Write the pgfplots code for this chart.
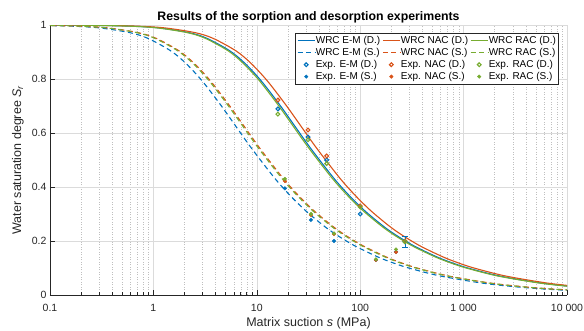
\documentclass[border=0pt]{standalone}
\usepackage{fontspec}
\setmainfont{Liberation Sans}
\usepackage{pgfplots}
\pgfplotsset{compat=1.18}
\definecolor{mblue}{rgb}{0,0.447,0.741}
\definecolor{mred}{rgb}{0.85,0.325,0.098}
\definecolor{mgreen}{rgb}{0.466,0.674,0.188}
\definecolor{axgray}{rgb}{0.15,0.15,0.15}
\begin{document}
\begin{tikzpicture}
\useasboundingbox (-50pt,-35pt) rectangle (534pt,295pt);
\begin{axis}[
  at={(0,0)}, anchor=south west,
  scale only axis, width=517pt, height=270pt,
  xmode=log, xmin=0.1, xmax=10000, ymin=0, ymax=1,
  axis lines*=left,
  axis line style={axgray, line width=0.8pt},
  xtick={0.1,1,10,100,1000,10000},
  xticklabels={0.1,1,10,100,1 000,10 000},
  minor xtick={0.2,0.3,0.4,0.5,0.6,0.7,0.8,0.9,2,3,4,5,6,7,8,9,20,30,40,50,60,70,80,90,200,300,400,500,600,700,800,900,2000,3000,4000,5000,6000,7000,8000,9000},
  ytick={0,0.2,0.4,0.6,0.8,1},
  yticklabels={0,0.2,0.4,0.6,0.8,1},
  minor ytick={},
  tick align=inside,
  major tick length=5pt, minor tick length=3pt,
  tick style={axgray, line width=0.6pt},
  xmajorgrids, xminorgrids, ymajorgrids,
  major grid style={line width=0.6pt, color=black!14},
  minor grid style={dash pattern=on 1pt off 1.5pt, line width=0.5pt, color=black!25},
  ticklabel style={font=\fontsize{10.5}{12}\selectfont, text=axgray},
  xticklabel style={yshift=-6pt},
  label style={font=\fontsize{12.5}{14}\selectfont, text=axgray},
  xlabel={Matrix suction \textit{s} (MPa)},
  ylabel={Water saturation degree \textit{S}\textsubscript{\textit{r}}},
  xlabel style={at={(axis description cs:0.5,-0.1185)}, anchor=base},
  ylabel style={at={(axis description cs:-0.0619,0.5)}, anchor=center},
  title={Results of the sorption and desorption experiments},
  title style={font=\bfseries\fontsize{12.3}{14}\selectfont, yshift=-7.5pt},
  legend columns=3,
  legend cell align=left,
  legend style={at={(axis description cs:0.983,0.97)}, anchor=north east,
    draw=axgray, fill=white, font=\fontsize{10}{11}\selectfont,
    inner xsep=1.5pt, inner ysep=1.5pt,
    nodes={inner xsep=0.5pt, inner ysep=1.6pt},
    /tikz/every even column/.append style={column sep=1.5pt}},
]
% drying (solid)
\addplot[mblue, line width=1.1pt, smooth] coordinates {(0.055,0.99988)(0.11,0.99967)(0.22,0.99906)(0.55,0.99630)(1.1,0.98968)(2.2,0.97185)(3.3,0.95055)(5.5,0.90401)(7.7,0.85756)(11,0.79370)(16.5,0.70639)(22,0.63925)(33,0.54446)(55,0.43463)(77,0.37140)(110,0.31296)(165,0.25674)(220,0.22279)(330,0.18222)(550,0.14130)(770,0.11946)(1100,0.09997)(2200,0.07070)(5500,0.04472)(11000,0.03162)};
\addlegendentry{WRC E-M (D.)}
\addplot[mred, line width=1.1pt, smooth] coordinates {(0.063,0.99988)(0.126,0.99967)(0.252,0.99906)(0.63,0.99630)(1.26,0.98968)(2.52,0.97185)(3.78,0.95055)(6.3,0.90401)(8.82,0.85756)(12.6,0.79370)(18.9,0.70639)(25.2,0.63925)(37.8,0.54446)(63,0.43463)(88.2,0.37140)(126,0.31296)(189,0.25674)(252,0.22279)(378,0.18222)(630,0.14130)(882,0.11946)(1260,0.09997)(2520,0.07070)(6300,0.04472)(12600,0.03162)};
\addlegendentry{WRC NAC (D.)}
\addplot[mgreen, line width=1.1pt, smooth] coordinates {(0.053,0.99988)(0.106,0.99967)(0.212,0.99906)(0.53,0.99630)(1.06,0.98968)(2.12,0.97185)(3.18,0.95055)(5.3,0.90401)(7.42,0.85756)(10.6,0.79370)(15.9,0.70639)(21.2,0.63925)(31.8,0.54446)(53,0.43463)(74.2,0.37140)(106,0.31296)(159,0.25674)(212,0.22279)(318,0.18222)(530,0.14130)(742,0.11946)(1060,0.09997)(2120,0.07070)(5300,0.04472)(10600,0.03162)};
\addlegendentry{WRC RAC (D.)}
% sorption (dashed)
\addplot[mblue, line width=1.1pt, smooth, dash pattern=on 5pt off 3.5pt] coordinates {(0.059,0.99906)(0.1475,0.99630)(0.295,0.98968)(0.59,0.97185)(0.885,0.95055)(1.475,0.90401)(2.065,0.85756)(2.95,0.79370)(4.425,0.70639)(5.9,0.63925)(8.85,0.54446)(14.75,0.43463)(20.65,0.37140)(29.5,0.31296)(44.25,0.25674)(59,0.22279)(88.5,0.18222)(147.5,0.14130)(206.5,0.11946)(295,0.09997)(590,0.07070)(1475,0.04472)(2950,0.03162)(5900,0.02236)(14750,0.01414)};
\addlegendentry{WRC E-M (S.)}
\addplot[mred, line width=1.1pt, smooth, dash pattern=on 5pt off 3.5pt] coordinates {(0.071,0.99906)(0.1775,0.99630)(0.355,0.98968)(0.71,0.97185)(1.065,0.95055)(1.775,0.90401)(2.485,0.85756)(3.55,0.79370)(5.325,0.70639)(7.1,0.63925)(10.65,0.54446)(17.75,0.43463)(24.85,0.37140)(35.5,0.31296)(53.25,0.25674)(71,0.22279)(106.5,0.18222)(177.5,0.14130)(248.5,0.11946)(355,0.09997)(710,0.07070)(1775,0.04472)(3550,0.03162)(7100,0.02236)(17750,0.01414)};
\addlegendentry{WRC NAC (S.)}
\addplot[mgreen, line width=1.1pt, smooth, dash pattern=on 5pt off 3.5pt] coordinates {(0.069,0.99906)(0.1725,0.99630)(0.345,0.98968)(0.69,0.97185)(1.035,0.95055)(1.725,0.90401)(2.415,0.85756)(3.45,0.79370)(5.175,0.70639)(6.9,0.63925)(10.35,0.54446)(17.25,0.43463)(24.15,0.37140)(34.5,0.31296)(51.75,0.25674)(69,0.22279)(103.5,0.18222)(172.5,0.14130)(241.5,0.11946)(345,0.09997)(690,0.07070)(1725,0.04472)(3450,0.03162)(6900,0.02236)(17250,0.01414)};
\addlegendentry{WRC RAC (S.)}
% experiments, drying
\addplot[only marks, mark=o, mblue, mark size=1.9pt, line width=1.1pt] coordinates {(16,0.689)(31.3,0.585)(47.4,0.50)(100,0.30)(271,0.198)};
\addlegendentry{Exp. E-M (D.)}
\addplot[only marks, mark=o, mred, mark size=1.9pt, line width=1.1pt] coordinates {(16,0.722)(31.3,0.611)(47.4,0.515)(100,0.33)(271,0.20)};
\addlegendentry{Exp. NAC (D.)}
\addplot[only marks, mark=o, mgreen, mark size=1.9pt, line width=1.1pt] coordinates {(16,0.67)(31.3,0.575)(47.4,0.487)(100,0.326)(271,0.197)};
\addlegendentry{Exp. RAC (D.)}
% experiments, sorption
\addplot[only marks, mark=*, mblue, mark size=1.8pt] coordinates {(18.7,0.395)(33.4,0.278)(55.8,0.20)(142,0.13)(222,0.16)};
\addlegendentry{Exp. E-M (S.)}
\addplot[only marks, mark=*, mred, mark size=1.8pt] coordinates {(18.7,0.422)(33.4,0.296)(55.8,0.226)(142,0.13)(222,0.159)};
\addlegendentry{Exp. NAC (S.)}
\addplot[only marks, mark=*, mgreen, mark size=1.8pt] coordinates {(18.7,0.43)(33.4,0.30)(55.8,0.228)(142,0.132)(222,0.169)};
\addlegendentry{Exp. RAC (S.)}
% error bar
\addplot[forget plot, draw=none, mark=none, error bars/.cd, y dir=both, y explicit,
  error bar style={draw=mblue, line width=0.8pt},
  error mark options={draw=mblue, rotate=90, mark size=3pt, line width=0.8pt}]
  coordinates {(271,0.198) +- (0,0.02)};
\end{axis}
\end{tikzpicture}
\end{document}
